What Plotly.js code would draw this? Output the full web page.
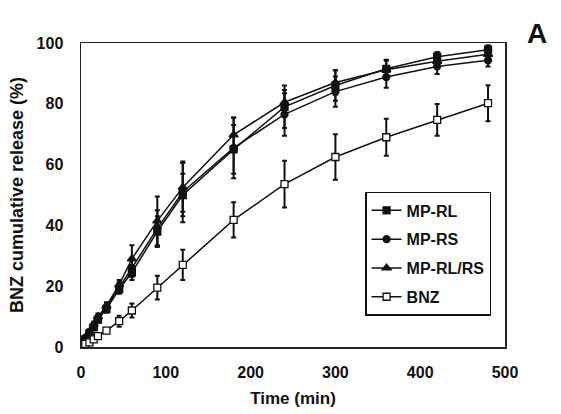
<!DOCTYPE html>
<html>
<head>
<meta charset="utf-8">
<script src="https://cdn.plot.ly/plotly-3.0.1.min.js"></script>
<style>html,body{margin:0;padding:0;background:#fff}#chart{width:561px;height:414px}</style>
</head>
<body>
<div id="chart"></div>
<script>
const time = [5, 10, 15, 20, 30, 45, 60, 90, 120, 180, 240, 300, 360, 420, 480];
const mpRL   = [2.5, 4.5, 6.5, 9.0, 12.5, 19.0, 24.5, 38.0, 50.0, 65.0, 79.0, 86.0, 91.5, 95.5, 97.8];
const mpRS   = [3.0, 5.0, 7.0, 9.5, 13.0, 19.5, 26.0, 39.0, 51.0, 65.5, 76.5, 84.0, 88.8, 92.3, 94.3];
const mpRLRS = [2.8, 5.0, 7.5, 10.0, 13.5, 20.5, 29.0, 41.5, 52.5, 69.8, 80.5, 87.0, 91.2, 94.0, 96.3];
const bnz    = [1.0, 1.5, 2.5, 3.6, 5.4, 8.5, 12.0, 19.5, 27.0, 41.8, 53.6, 62.5, 69.0, 74.7, 80.2];
const errRL   = [0.5, 0.6, 0.8, 1.0, 1.2, 1.5, 2.5, 5.0, 7.0, 8.0, 7.0, 5.0, 3.0, 1.5, 1.5];
const errRS   = [0.5, 0.6, 0.8, 1.0, 1.2, 1.8, 3.0, 6.0, 10.0, 10.0, 7.0, 5.0, 3.5, 2.5, 2.0];
const errRLRS = [0.5, 0.6, 0.8, 1.0, 1.2, 1.5, 4.5, 8.0, 8.0, 5.6, 4.0, 4.0, 3.0, 2.0, 2.5];
const errBNZ  = [0.3, 0.4, 0.5, 0.6, 0.8, 1.8, 2.3, 3.9, 5.0, 5.8, 7.7, 7.5, 6.1, 5.2, 5.9];
const names = ['MP-RL', 'MP-RS', 'MP-RL/RS', 'BNZ'];
const xTicks = [0, 100, 200, 300, 400, 500];
const yTicks = [0, 20, 40, 60, 80, 100];

function tr(name, y, err, symbol, fill, size) {
  return {
    x: time, y: y, name: name, type: 'scatter', mode: 'lines+markers',
    legendgroup: name,
    line: {color: '#111', width: 1.5},
    marker: {symbol: symbol, size: size, color: fill, line: {color: '#111', width: 1.3}},
    error_y: {type: 'data', array: err, visible: true, color: '#111', thickness: 2, width: 2.5}
  };
}
const data = [
  tr(names[0], mpRL, errRL, 'square', '#111', 7),
  tr(names[1], mpRS, errRS, 'circle', '#111', 7),
  tr(names[2], mpRLRS, errRLRS, 'triangle-up', '#111', 8),
  tr(names[3], bnz, errBNZ, 'square', '#fff', 7)
];
const font = {family: 'Liberation Sans, Arial, sans-serif', color: '#111', size: 16, weight: 'bold'};
const layout = {
  width: 561, height: 414,
  margin: {l: 81, r: 56, t: 43, b: 67},
  paper_bgcolor: '#fff', plot_bgcolor: '#fff',
  font: font,
  showlegend: true,
  xaxis: {
    range: [0, 500], tickvals: xTicks, ticktext: xTicks.map(String),
    showgrid: false, zeroline: false, showline: true, mirror: true,
    linecolor: '#222', linewidth: 1.5, ticks: '', ticklabelstandoff: 10,
    tickfont: {family: font.family, size: 16, color: '#111', weight: 'bold'},
    title: {text: 'Time (min)', font: {family: font.family, size: 17, color: '#111', weight: 'bold'}, standoff: 12}
  },
  yaxis: {
    range: [0, 100], tickvals: yTicks, ticktext: yTicks.map(String),
    showgrid: false, zeroline: false, showline: true, mirror: true,
    linecolor: '#222', linewidth: 1.5, ticks: '', ticklabelstandoff: 13,
    tickfont: {family: font.family, size: 16, color: '#111', weight: 'bold'},
    title: {text: 'BNZ cumulative release (%)', font: {family: font.family, size: 18, color: '#111', weight: 'bold'}, standoff: 8}
  },
  legend: {
    x: 0.67, y: 0.51, xanchor: 'left', yanchor: 'top',
    bordercolor: '#111', borderwidth: 1.5, bgcolor: '#fff',
    font: {family: font.family, size: 16, color: '#111', weight: 'bold'},
    itemwidth: 30, traceorder: 'grouped', tracegroupgap: 5
  },
  annotations: [{
    text: 'A', xref: 'paper', yref: 'paper', x: 1.075, y: 1.03, xanchor: 'center', yanchor: 'middle',
    showarrow: false, font: {family: font.family, size: 28, color: '#111', weight: 'bold'}
  }]
};
Plotly.newPlot('chart', data, layout, {displayModeBar: false, staticPlot: true});
</script>
</body>
</html>
